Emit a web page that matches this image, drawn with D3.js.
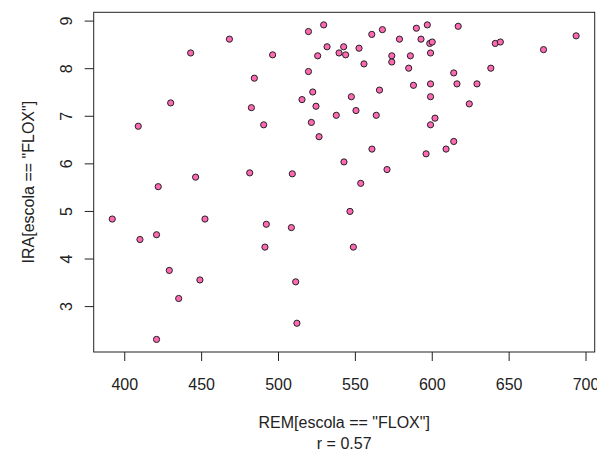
<!DOCTYPE html>
<html>
<head>
<meta charset="utf-8">
<script src="https://cdn.jsdelivr.net/npm/d3@7"></script>
<style>
  html, body { margin: 0; padding: 0; background: #fff; }
  svg { display: block; }
  text { font-family: "Liberation Sans", Arial, sans-serif; fill: #222; }
</style>
</head>
<body>
<svg id="chart" width="597" height="452"></svg>
<script>
// REM[escola == "FLOX"]
const remValues = [392.2, 409.1, 410.2, 421.0, 421.0, 422.1, 429.3, 430.2, 435.4, 443.2,
  446.4, 449.2, 452.5, 468.4, 481.6, 482.7, 484.6, 490.7, 491.5, 492.4,
  496.5, 508.7, 509.3, 511.5, 512.3, 515.6, 519.8, 519.8, 521.7, 522.6,
  524.7, 525.8, 526.7, 529.7, 531.9, 537.9, 539.7, 542.7, 542.9, 544.0,
  546.8, 547.7, 549.0, 550.7, 552.7, 553.8, 555.9, 561.0, 561.1, 563.9,
  566.0, 567.9, 570.9, 574.0, 574.0, 579.0, 585.0, 586.1, 588.1, 590.0,
  593.0, 596.3, 597.1, 598.7, 600.3, 599.2, 599.2, 599.2, 599.2, 602.1,
  609.3, 614.3, 614.3, 616.4, 617.2, 624.4, 629.4, 638.4, 641.3, 644.6,
  672.7, 693.9];
// IRA[escola == "FLOX"]
const iraValues = [4.83, 6.78, 4.40, 4.50, 2.30, 5.51, 3.75, 7.27, 3.16, 8.32,
  5.71, 3.55, 4.83, 8.61, 5.80, 7.17, 7.79, 6.81, 4.24, 4.72,
  8.28, 4.65, 5.78, 3.51, 2.64, 7.34, 8.77, 7.93, 6.86, 7.50,
  7.20, 8.26, 6.56, 8.91, 8.45, 7.01, 8.32, 8.45, 6.03, 8.28,
  4.99, 7.40, 4.24, 7.11, 8.42, 5.58, 8.09, 8.71, 6.30, 7.01,
  7.54, 8.81, 5.87, 8.26, 8.13, 8.61, 8.00, 8.26, 7.64, 8.84,
  8.61, 6.20, 8.91, 8.52, 8.55, 8.32, 7.67, 7.40, 6.81, 6.95,
  6.30, 7.90, 6.46, 7.67, 8.88, 7.25, 7.67, 8.00, 8.52, 8.55,
  8.39, 8.68];
const xTicks = [400, 450, 500, 550, 600, 650, 700];
const yTicks = [3, 4, 5, 6, 7, 8, 9];
const xLabel = 'REM[escola == "FLOX"]';
const yLabel = 'IRA[escola == "FLOX"]';
const subLabel = 'r = 0.57';

const svg = d3.select("#chart");
const plot = { left: 93.7, right: 594.7, top: 12.3, bottom: 352 };

function rRange(vals) {
  const [lo, hi] = d3.extent(vals);
  const pad = (hi - lo) * 0.04;
  return [lo - pad, hi + pad];
}

const x = d3.scaleLinear().domain(rRange(remValues)).range([plot.left, plot.right]);
const y = d3.scaleLinear().domain(rRange(iraValues)).range([plot.bottom, plot.top]);

const ink = "#222";

// x axis
const gx = svg.append("g")
  .attr("transform", `translate(0,${plot.bottom})`)
  .call(d3.axisBottom(x).tickValues(xTicks).tickSize(9).tickFormat(d3.format("d")));
gx.select(".domain").remove();
gx.selectAll(".tick line").attr("stroke", ink).attr("stroke-width", 1);
gx.selectAll(".tick text")
  .attr("y", 38.3).attr("dy", null)
  .style("font-size", "16px").attr("fill", ink)
  .style("font-family", '"Liberation Sans", Arial, sans-serif');

// y axis
const gy = svg.append("g")
  .attr("transform", `translate(${plot.left},0)`)
  .call(d3.axisLeft(y).tickValues(yTicks).tickSize(9).tickFormat(d3.format("d")));
gy.select(".domain").remove();
gy.selectAll(".tick line").attr("stroke", ink).attr("stroke-width", 1);
gy.selectAll(".tick text")
  .attr("x", null).attr("y", null).attr("dy", null)
  .attr("text-anchor", "middle")
  .attr("transform", "translate(-22,0) rotate(-90)")
  .style("font-size", "16px").attr("fill", ink)
  .style("font-family", '"Liberation Sans", Arial, sans-serif');

// box
svg.append("rect")
  .attr("x", plot.left).attr("y", plot.top)
  .attr("width", plot.right - plot.left).attr("height", plot.bottom - plot.top)
  .attr("fill", "none").attr("stroke", ink).attr("stroke-width", 1);

// points
const pts = remValues.map((v, i) => ({ rem: v, ira: iraValues[i] }));
svg.append("g").selectAll("circle").data(pts).join("circle")
  .attr("cx", d => x(d.rem))
  .attr("cy", d => y(d.ira))
  .attr("r", 3.1)
  .attr("fill", "#ff69b4")
  .attr("stroke", "#222")
  .attr("stroke-width", 1);

// labels
const cx = (plot.left + plot.right) / 2;
const cy = (plot.top + plot.bottom) / 2;
svg.append("text").attr("x", cx).attr("y", 428.3)
  .attr("text-anchor", "middle").style("font-size", "16px").text(xLabel);
svg.append("text").attr("x", cx).attr("y", 448.5)
  .attr("text-anchor", "middle").style("font-size", "16px").text(subLabel);
svg.append("text")
  .attr("transform", `translate(33.5,${cy}) rotate(-90)`)
  .attr("text-anchor", "middle").style("font-size", "16px").text(yLabel);
</script>
</body>
</html>
